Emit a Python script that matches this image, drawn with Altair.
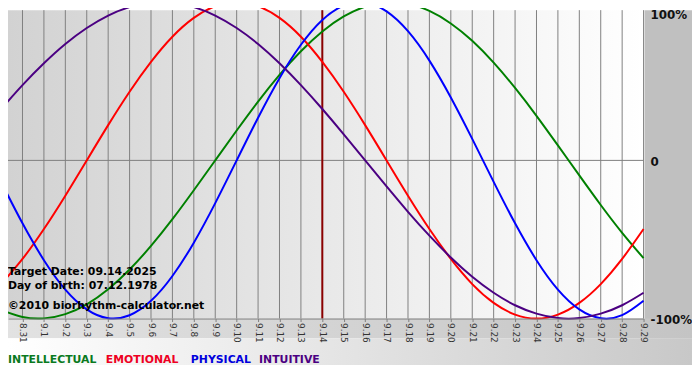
import altair as alt
import pandas as pd

# ---- data ----
DATES = ["8.30", "8.31", "9.1", "9.2", "9.3", "9.4", "9.5", "9.6", "9.7", "9.8",
         "9.9", "9.10", "9.11", "9.12", "9.13", "9.14", "9.15", "9.16", "9.17",
         "9.18", "9.19", "9.20", "9.21", "9.22", "9.23", "9.24", "9.25", "9.26",
         "9.27", "9.28", "9.29"]

INTELLECTUAL = [-0.945, -0.990, -0.999, -0.972, -0.910, -0.815, -0.690, -0.541,
                -0.372, -0.189, 0.0, 0.189, 0.372, 0.541, 0.690, 0.815, 0.910,
                0.972, 0.999, 0.990, 0.945, 0.866, 0.756, 0.618, 0.458, 0.282,
                0.095, -0.095, -0.282, -0.458, -0.618]
EMOTIONAL = [-0.782, -0.623, -0.434, -0.223, 0.0, 0.223, 0.434, 0.623, 0.782,
             0.901, 0.975, 1.0, 0.975, 0.901, 0.782, 0.623, 0.434, 0.223, 0.0,
             -0.223, -0.434, -0.623, -0.782, -0.901, -0.975, -1.0, -0.975,
             -0.901, -0.782, -0.623, -0.434]
PHYSICAL = [-0.136, -0.398, -0.631, -0.817, -0.942, -0.998, -0.979, -0.888,
            -0.731, -0.520, -0.270, 0.0, 0.270, 0.520, 0.731, 0.888, 0.979,
            0.998, 0.942, 0.817, 0.631, 0.398, 0.136, -0.136, -0.398, -0.631,
            -0.817, -0.942, -0.998, -0.979, -0.888]
INTUITIVE = [0.325, 0.476, 0.614, 0.736, 0.837, 0.916, 0.969, 0.997, 0.997,
             0.969, 0.916, 0.837, 0.736, 0.614, 0.476, 0.325, 0.165, 0.0,
             -0.165, -0.325, -0.476, -0.614, -0.736, -0.837, -0.916, -0.969,
             -0.997, -0.997, -0.969, -0.916, -0.837]

SERIES = ["INTELLECTUAL", "EMOTIONAL", "PHYSICAL", "INTUITIVE"]
SERIES_VALUES = [INTELLECTUAL, EMOTIONAL, PHYSICAL, INTUITIVE]
COLORS = ["#008000", "#ff0000", "#0000ff", "#4b0082"]
LEGEND_COLORS = ["#0a7a1e", "#ee0022", "#0000dd", "#4b0082"]

TARGET_DATE = "9.14"
Y_TICKS = [1, 0, -1]
Y_TICK_LABELS = ["100%", "0", "-100%"]
INFO_LINES = ["Target Date: 09.14.2025", "Day of birth: 07.12.1978",
              "\u00a92010 biorhythm-calculator.net"]

# ---- layout / style ----
W, H = 643, 312
FONT = "DejaVu Sans"
GRID = "#808080"

days = list(range(len(DATES)))
rows = []
for name, vals in zip(SERIES, SERIES_VALUES):
    for d, v in zip(days, vals):
        rows.append({"day": d, "value": v, "series": name})
df = pd.DataFrame(rows)

label_expr = "[" + ",".join("'" + s + "'" for s in DATES) + "][datum.value]"

xs = alt.Scale(domain=[0.323, len(DATES) - 1], nice=False, zero=False)
ys = alt.Scale(domain=[-1, 0.95], nice=False, zero=False)

x_axis = alt.Axis(values=days, labelExpr=label_expr, labelAngle=90,
                  labelFont=FONT, labelFontSize=9, labelColor="#333333",
                  labelPadding=1, labelOverlap=False, labelFlush=False,
                  tickSize=3, tickColor=GRID, domainColor=GRID,
                  grid=False, title=None, zindex=1)
X = alt.X("day:Q", scale=xs, axis=x_axis)
Y = alt.Y("value:Q", scale=ys, axis=None)

one = alt.Data(values=[{"k": 1}])


def grad(c0, c1):
    return alt.LinearGradient(
        gradient="linear", x1=0, y1=0, x2=1, y2=0,
        stops=[alt.GradientStop(color=c0, offset=0),
               alt.GradientStop(color=c1, offset=1)])


plot_bg = alt.Chart(one).mark_rect(color=grad("#d2d2d2", "#ffffff")).encode(
    x=alt.value(0), x2=alt.value(W), y=alt.value(0), y2=alt.value(H))
right_strip = alt.Chart(one).mark_rect(color="#c0c0c0").encode(
    x=alt.value(W + 1), x2=alt.value(692), y=alt.value(0), y2=alt.value(H + 20))
label_band = alt.Chart(one).mark_rect(color=grad("#e2e2e2", "#c4c4c4")).encode(
    x=alt.value(0), x2=alt.value(692), y=alt.value(H), y2=alt.value(H + 20))
legend_band = alt.Chart(one).mark_rect(color=grad("#ffffff", "#c8c8c8")).encode(
    x=alt.value(0), x2=alt.value(692), y=alt.value(H + 20), y2=alt.value(H + 47))

grid_rules = alt.Chart(pd.DataFrame({"day": days})).mark_rule(
    color=GRID, strokeWidth=1).encode(x=X)
zero_rule = alt.Chart(pd.DataFrame({"value": [0]})).mark_rule(
    color=GRID, strokeWidth=1).encode(y=Y)
target_rule = alt.Chart(pd.DataFrame({"day": [DATES.index(TARGET_DATE)]})).mark_rule(
    color="#8b0000", strokeWidth=2).encode(x=X)

lines = []
for name, col in zip(SERIES, COLORS):
    lines.append(
        alt.Chart(df[df["series"] == name]).mark_line(
            color=col, strokeWidth=2, interpolate="natural").encode(x=X, y=Y))

ylab_top = alt.Chart(pd.DataFrame({"value": Y_TICKS[:1], "label": Y_TICK_LABELS[:1]})).mark_text(
    align="left", baseline="top", dy=8, font=FONT, fontSize=12,
    fontWeight="bold", color="#111111").encode(x=alt.value(W + 7), y=Y, text="label:N")
ylab_rest = alt.Chart(pd.DataFrame({"value": Y_TICKS[1:], "label": Y_TICK_LABELS[1:]})).mark_text(
    align="left", baseline="middle", dy=2, font=FONT, fontSize=12,
    fontWeight="bold", color="#111111").encode(x=alt.value(W + 7), y=Y, text="label:N")

info_y = [265, 279, 299]
info = [alt.Chart(alt.Data(values=[{"t": s}])).mark_text(
    align="left", baseline="middle", font=FONT, fontSize=11,
    fontWeight="bold", color="#000000").encode(
        x=alt.value(0), y=alt.value(yy), text="t:N")
    for s, yy in zip(INFO_LINES, info_y)]

legend_x = [0, 99, 185, 254]
legend = [alt.Chart(alt.Data(values=[{"t": s}])).mark_text(
    align="left", baseline="middle", font=FONT, fontSize=11,
    fontWeight="bold", color=c).encode(
        x=alt.value(xx), y=alt.value(H + 42), text="t:N")
    for s, c, xx in zip(SERIES, LEGEND_COLORS, legend_x)]

chart = alt.layer(
    plot_bg, right_strip, label_band, legend_band,
    grid_rules, zero_rule, target_rule, *lines,
    ylab_top, ylab_rest, *info, *legend
).properties(
    width=W, height=H,
    autosize=alt.AutoSizeParams(type="none"),
    padding={"left": 0, "top": 0, "right": 49, "bottom": 60},
).configure(background="white").configure_view(strokeWidth=0)

chart.save("out.html", embed_options={"renderer": "svg", "actions": False})
